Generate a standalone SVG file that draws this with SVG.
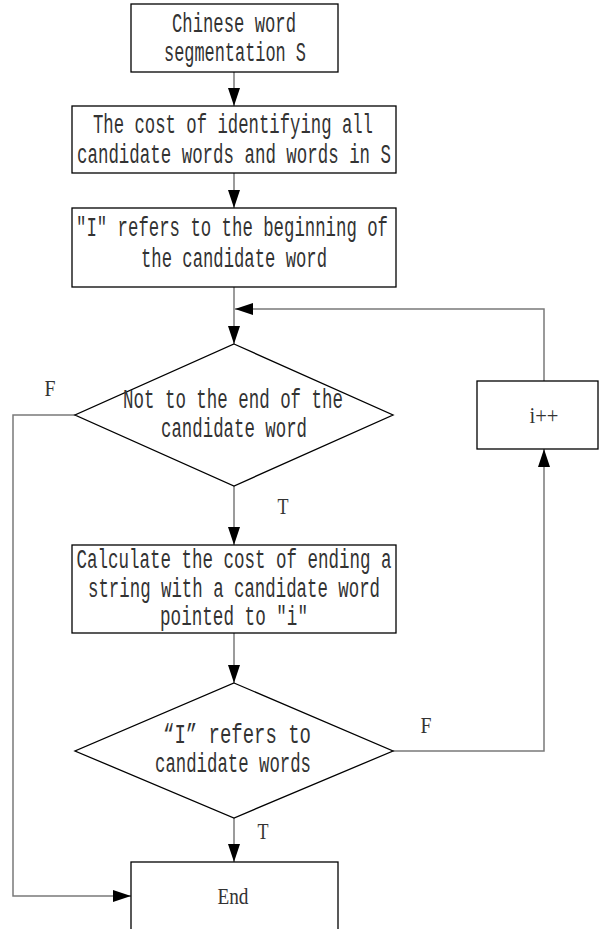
<svg xmlns="http://www.w3.org/2000/svg" width="599" height="929" viewBox="0 0 599 929">
<style>
.shape{fill:#fff;stroke:#000;stroke-width:1.3}
.conn{fill:none;stroke:#7a7a7a;stroke-width:1.5}
.t{font-family:"Liberation Mono",monospace;font-size:27px;fill:#333;text-anchor:middle}
.lbl{font-family:"Liberation Serif",serif;font-size:24px;fill:#333;text-anchor:middle}
</style>
<defs>
<marker id="ah" markerWidth="18" markerHeight="12" refX="18" refY="6" orient="auto" markerUnits="userSpaceOnUse">
<path d="M0,0 L18,6 L0,12 Z" fill="#000"/>
</marker>
</defs>
<rect width="599" height="929" fill="#fff"/>
<g id="connectors">
<line class="conn" x1="234" y1="72" x2="234" y2="106" marker-end="url(#ah)"/>
<line class="conn" x1="234" y1="173" x2="234" y2="208" marker-end="url(#ah)"/>
<line class="conn" x1="234" y1="287" x2="234" y2="344" marker-end="url(#ah)"/>
<polyline class="conn" points="544,381 544,309 235,309" marker-end="url(#ah)"/>
<line class="conn" x1="234" y1="486" x2="234" y2="545" marker-end="url(#ah)"/>
<polyline class="conn" points="75,415 13,415 13,896 131,896" marker-end="url(#ah)"/>
<line class="conn" x1="234" y1="633" x2="234" y2="683" marker-end="url(#ah)"/>
<polyline class="conn" points="393,751 544,751 544,449" marker-end="url(#ah)"/>
<line class="conn" x1="234" y1="818" x2="234" y2="862" marker-end="url(#ah)"/>
<text class="lbl" x="50" y="396" textLength="11" lengthAdjust="spacingAndGlyphs">F</text>
<text class="lbl" x="283" y="514" textLength="11" lengthAdjust="spacingAndGlyphs">T</text>
<text class="lbl" x="426" y="733" textLength="11" lengthAdjust="spacingAndGlyphs">F</text>
<text class="lbl" x="263" y="839" textLength="11" lengthAdjust="spacingAndGlyphs">T</text>
</g>
<g id="start">
<rect class="shape" x="131" y="4" width="207" height="68"/>
<text class="t" x="234" y="32" textLength="124" lengthAdjust="spacingAndGlyphs">Chinese word</text>
<text class="t" x="235" y="61" textLength="142" lengthAdjust="spacingAndGlyphs">segmentation S</text>
</g>
<g id="identify">
<rect class="shape" x="72" y="106" width="324" height="67"/>
<text class="t" x="233" y="133" textLength="280" lengthAdjust="spacingAndGlyphs">The cost of identifying all</text>
<text class="t" x="234" y="163" textLength="314" lengthAdjust="spacingAndGlyphs">candidate words and words in S</text>
</g>
<g id="init">
<rect class="shape" x="72" y="208" width="324" height="79"/>
<text class="t" x="232" y="236" textLength="312" lengthAdjust="spacingAndGlyphs">″I″ refers to the beginning of</text>
<text class="t" x="234" y="267" textLength="186" lengthAdjust="spacingAndGlyphs">the candidate word</text>
</g>
<g id="cond1">
<polygon class="shape" points="234,344 393,415 234,486 75,415"/>
<text class="t" x="233" y="408" textLength="220" lengthAdjust="spacingAndGlyphs">Not to the end of the</text>
<text class="t" x="234" y="437" textLength="146" lengthAdjust="spacingAndGlyphs">candidate word</text>
</g>
<g id="inc">
<rect class="shape" x="477" y="381" width="121" height="68"/>
<text class="lbl" x="544" y="423" textLength="29" lengthAdjust="spacingAndGlyphs" font-size="22">i++</text>
</g>
<g id="calc">
<rect class="shape" x="72" y="545" width="324" height="88"/>
<text class="t" x="234" y="568" textLength="315" lengthAdjust="spacingAndGlyphs">Calculate the cost of ending a</text>
<text class="t" x="234" y="597" textLength="292" lengthAdjust="spacingAndGlyphs">string with a candidate word</text>
<text class="t" x="234" y="625" textLength="148" lengthAdjust="spacingAndGlyphs">pointed to ″i″</text>
</g>
<g id="cond2">
<polygon class="shape" points="234,683 393,751 234,818 75,751"/>
<text class="t" x="237" y="743" textLength="148" lengthAdjust="spacingAndGlyphs">“I”  refers to</text>
<text class="t" x="233" y="772" textLength="156" lengthAdjust="spacingAndGlyphs">candidate words</text>
</g>
<g id="end">
<rect class="shape" x="131" y="862" width="207" height="80"/>
<text class="lbl" x="233" y="904" textLength="31" lengthAdjust="spacingAndGlyphs">End</text>
</g>
</svg>
